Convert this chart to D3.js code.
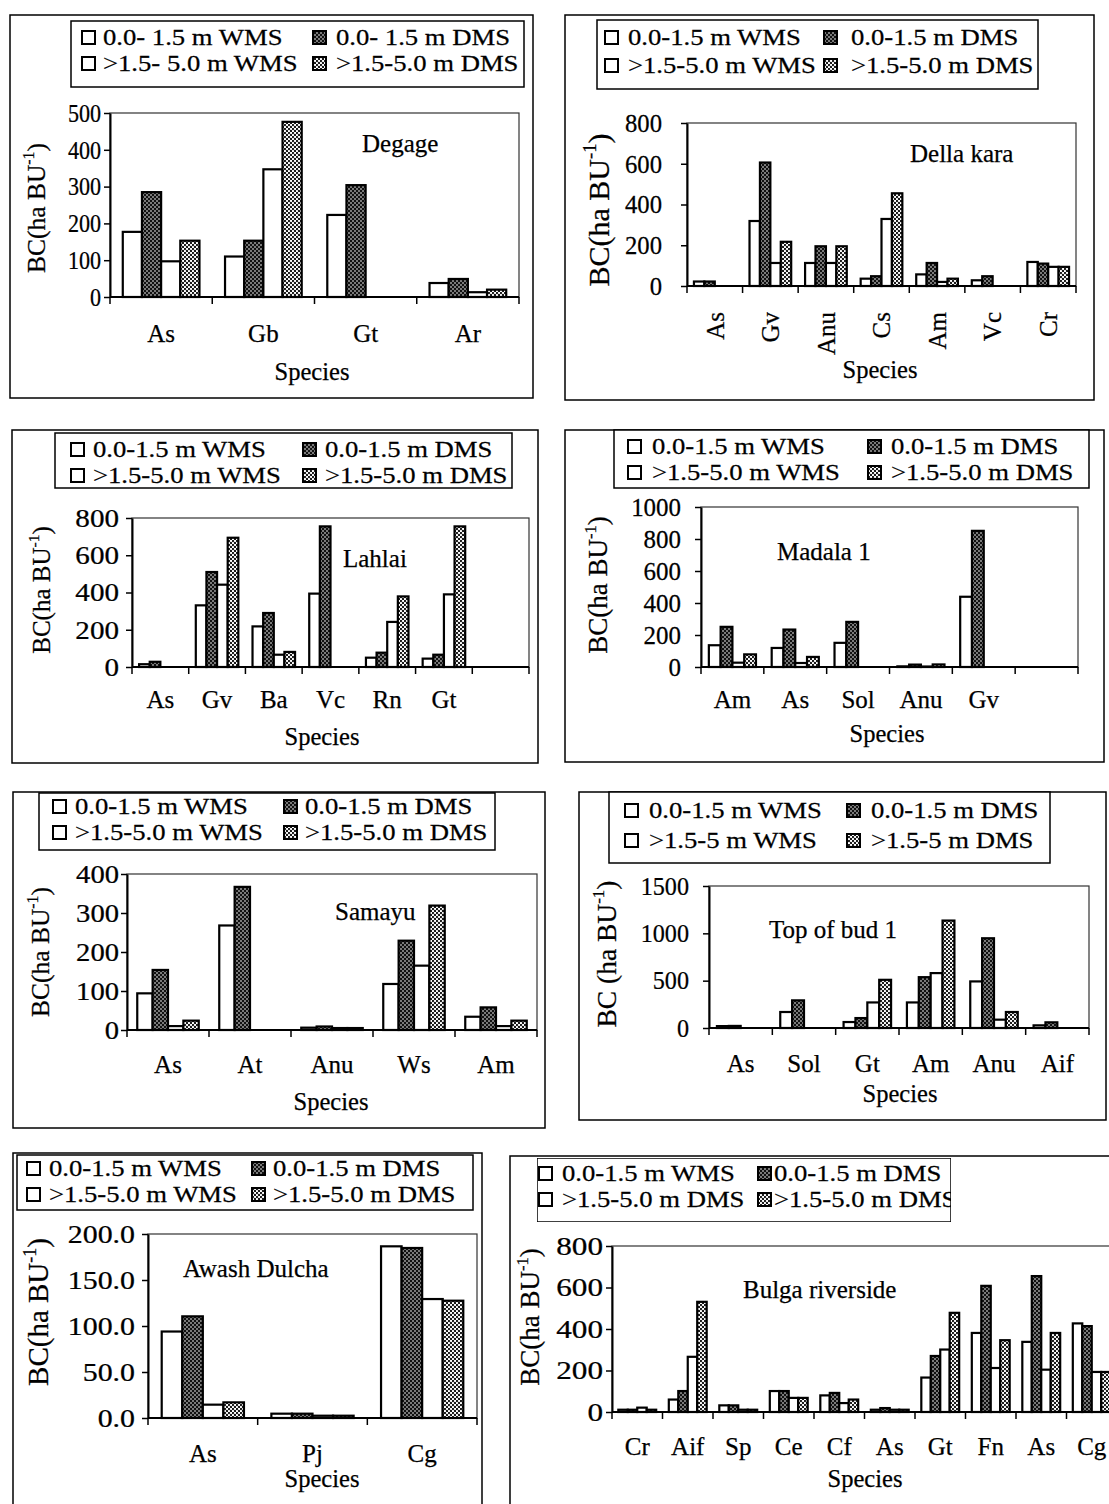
<!DOCTYPE html>
<html>
<head>
<meta charset="utf-8">
<script src="https://cdn.jsdelivr.net/npm/d3@7"></script>
<style>
  body { margin: 0; background: #fff; }
  svg text { font-family: "Liberation Serif", "Times New Roman", serif; fill: #000; stroke: #000; stroke-width: 0.25px; }
</style>
</head>
<body>
<svg id="fig" width="1109" height="1504"></svg>
<script>
// Bird count per site: four series per species
// order: 0.0-1.5 m WMS, 0.0-1.5 m DMS, >1.5-5.0 m WMS, >1.5-5.0 m DMS

const degageSpecies = ["As", "Gb", "Gt", "Ar"];
const degageWms1 = [177, 110, 223, 38];
const degageDms1 = [285, 153, 304, 49];
const degageWms2 = [97, 347, 0, 13];
const degageDms2 = [153, 476, 0, 20];
const degageTicks = [0, 100, 200, 300, 400, 500];

const dellaSpecies = ["As", "Gv", "Anu", "Cs", "Am", "Vc", "Cr"];
const dellaWms1 = [22, 319, 113, 36, 57, 28, 118];
const dellaDms1 = [22, 606, 195, 48, 113, 48, 110];
const dellaWms2 = [0, 113, 113, 329, 20, 0, 94];
const dellaDms2 = [0, 217, 195, 455, 36, 0, 94];
const dellaTicks = [0, 200, 400, 600, 800];

const lahlaiSpecies = ["As", "Gv", "Ba", "Vc", "Rn", "Gt", ""];
const lahlaiWms1 = [15, 331, 218, 394, 50, 45, 0];
const lahlaiDms1 = [28, 510, 290, 755, 77, 66, 0];
const lahlaiWms2 = [0, 442, 66, 0, 242, 390, 0];
const lahlaiDms2 = [0, 694, 81, 0, 379, 755, 0];
const lahlaiTicks = [0, 200, 400, 600, 800];

const madalaSpecies = ["Am", "As", "Sol", "Anu", "Gv", ""];
const madalaWms1 = [136, 119, 151, 4, 439, 0];
const madalaDms1 = [251, 234, 282, 15, 851, 0];
const madalaWms2 = [27, 25, 0, 3, 0, 0];
const madalaDms2 = [79, 63, 0, 16, 0, 0];
const madalaTicks = [0, 200, 400, 600, 800, 1000];

const samayuSpecies = ["As", "At", "Anu", "Ws", "Am"];
const samayuWms1 = [94, 268, 6, 118, 34];
const samayuDms1 = [154, 367, 9, 229, 58];
const samayuWms2 = [10, 0, 5, 165, 10];
const samayuDms2 = [24, 0, 5, 319, 24];
const samayuTicks = [0, 100, 200, 300, 400];

const budSpecies = ["As", "Sol", "Gt", "Am", "Anu", "Aif"];
const budWms1 = [20, 169, 63, 270, 492, 28];
const budDms1 = [22, 292, 105, 537, 948, 60];
const budWms2 = [0, 0, 270, 580, 88, 0];
const budDms2 = [0, 0, 509, 1135, 169, 0];
const budTicks = [0, 500, 1000, 1500];

const awashSpecies = ["As", "Pj", "Cg"];
const awashWms1 = [94.0, 4.7, 186.6];
const awashDms1 = [110.5, 4.7, 184.8];
const awashWms2 = [14.5, 2.5, 129.3];
const awashDms2 = [17.0, 2.5, 127.5];
const awashTicks = [0, 50, 100, 150, 200];

const bulgaSpecies = ["Cr", "Aif", "Sp", "Ce", "Cf", "As", "Gt", "Fn", "As", "Cg"];
const bulgaWms1 = [11, 60, 32, 101, 80, 11, 166, 381, 338, 427];
const bulgaDms1 = [11, 101, 32, 101, 92, 19, 270, 608, 655, 414];
const bulgaWms2 = [21, 266, 11, 68, 43, 11, 301, 212, 204, 193];
const bulgaDms2 = [11, 531, 11, 68, 60, 11, 478, 346, 381, 193];
const bulgaTicks = [0, 200, 400, 600, 800];

// legend wording used on each panel
const legendDegage = ["0.0- 1.5 m WMS", "0.0- 1.5 m DMS", ">1.5- 5.0 m WMS", ">1.5-5.0 m DMS"];
const legendStd = ["0.0-1.5 m WMS", "0.0-1.5 m DMS", ">1.5-5.0 m WMS", ">1.5-5.0 m DMS"];
const legendBud = ["0.0-1.5 m WMS", "0.0-1.5 m DMS", ">1.5-5 m WMS", ">1.5-5 m DMS"];
const legendBulga = ["0.0-1.5 m WMS", "0.0-1.5 m DMS", ">1.5-5.0 m DMS", ">1.5-5.0 m DMS"];

const svg = d3.select("#fig");
const defs = svg.append("defs");

// dense dark dot screen and lighter dot screen
const pDark = defs.append("pattern").attr("id", "dotsDark")
  .attr("width", 4).attr("height", 4).attr("patternUnits", "userSpaceOnUse");
pDark.append("rect").attr("width", 4).attr("height", 4).attr("fill", "#111");
pDark.append("circle").attr("cx", 1).attr("cy", 1).attr("r", 0.8).attr("fill", "#fff");
pDark.append("circle").attr("cx", 3).attr("cy", 3).attr("r", 0.8).attr("fill", "#fff");

const pLight = defs.append("pattern").attr("id", "dotsLight")
  .attr("width", 4).attr("height", 4).attr("patternUnits", "userSpaceOnUse");
pLight.append("rect").attr("width", 4).attr("height", 4).attr("fill", "#fff");
pLight.append("circle").attr("cx", 1).attr("cy", 1).attr("r", 1.15).attr("fill", "#111");
pLight.append("circle").attr("cx", 3).attr("cy", 3).attr("r", 1.15).attr("fill", "#111");

const seriesFill = ["#fff", "url(#dotsDark)", "#fff", "url(#dotsLight)"];

const panels = [
  { name: "Degage", species: degageSpecies, series: [degageWms1, degageDms1, degageWms2, degageDms2],
    legend: legendDegage, ticks: degageTicks, fmt: d3.format("d"), ylab: "BC(ha BU",
    tickSx: 0.85, tickGap: 9, ylabFs: 25.5,
    box: [10, 15, 533, 398], leg: [71, 21, 524, 87], rows: [45, 71], cols: [82, 103, 313, 336],
    plot: [110, 113, 519, 297], catY: 342, xlab: [312, 380], title: [362, 152], ylabPos: [36, 208] },
  { name: "Della kara", species: dellaSpecies, series: [dellaWms1, dellaDms1, dellaWms2, dellaDms2],
    legend: legendStd, ticks: dellaTicks, fmt: d3.format("d"), ylab: "BC(ha BU", rotate: true,
    tickSx: 0.95, tickGap: 25, ylabFs: 30,
    box: [565, 15, 1094, 400], leg: [597, 20, 1038, 89], rows: [45, 73], cols: [605, 628, 824, 851],
    plot: [687, 123, 1076, 286], catY: 312, xlab: [880, 378], title: [910, 162], ylabPos: [598, 210] },
  { name: "Lahlai", species: lahlaiSpecies, series: [lahlaiWms1, lahlaiDms1, lahlaiWms2, lahlaiDms2],
    legend: legendStd, ticks: lahlaiTicks, fmt: d3.format("d"), ylab: "BC(ha BU",
    tickSx: 1.12, tickGap: 13, ylabFs: 25,
    box: [12, 430, 538, 763], leg: [55, 433, 512, 488], rows: [457, 483], cols: [71, 93, 303, 325],
    plot: [132, 518, 529, 667], catY: 708, xlab: [322, 745], title: [343, 567], ylabPos: [41, 590] },
  { name: "Madala 1", species: madalaSpecies, series: [madalaWms1, madalaDms1, madalaWms2, madalaDms2],
    legend: legendStd, ticks: madalaTicks, fmt: d3.format("d"), ylab: "BC(ha BU",
    tickSx: 0.96, tickGap: 20, ylabFs: 27,
    box: [565, 430, 1104, 762], leg: [614, 430, 1089, 488], rows: [454, 480], cols: [628, 652, 868, 891],
    plot: [701, 507, 1078, 667], catY: 708, xlab: [887, 742], title: [777, 560], ylabPos: [598, 585] },
  { name: "Samayu", species: samayuSpecies, series: [samayuWms1, samayuDms1, samayuWms2, samayuDms2],
    legend: legendStd, ticks: samayuTicks, fmt: d3.format("d"), ylab: "BC(ha BU",
    tickSx: 1.1, tickGap: 8, ylabFs: 25.5,
    box: [13, 792, 545, 1128], leg: [39, 793, 495, 850], rows: [814, 840], cols: [53, 75, 284, 305],
    plot: [127, 874, 537, 1030], catY: 1073, xlab: [331, 1110], title: [335, 920], ylabPos: [40, 952] },
  { name: "Top of bud 1", species: budSpecies, series: [budWms1, budDms1, budWms2, budDms2],
    legend: legendBud, ticks: budTicks, fmt: d3.format("d"), ylab: "BC (ha BU",
    tickSx: 0.93, tickGap: 20, ylabFs: 27.5,
    box: [579, 792, 1106, 1120], leg: [609, 792, 1050, 863], rows: [818, 848], cols: [625, 649, 847, 871],
    plot: [709, 886, 1089, 1028], catY: 1072, xlab: [900, 1102], title: [769, 938], ylabPos: [606, 954] },
  { name: "Awash Dulcha", species: awashSpecies, series: [awashWms1, awashDms1, awashWms2, awashDms2],
    legend: legendStd, ticks: awashTicks, fmt: d3.format(".1f"), ylab: "BC(ha BU",
    tickSx: 1.15, tickGap: 13, ylabFs: 29,
    box: [13, 1153, 482, 1510], leg: [17, 1155, 473, 1210], rows: [1176, 1202], cols: [27, 49, 252, 273],
    plot: [148, 1234, 477, 1418], catY: 1462, xlab: [322, 1487], title: [183, 1277], ylabPos: [38, 1312] },
  { name: "Bulga riverside", species: bulgaSpecies, series: [bulgaWms1, bulgaDms1, bulgaWms2, bulgaDms2],
    legend: legendBulga, ticks: bulgaTicks, fmt: d3.format("d"), ylab: "BC(ha BU", clipLegend: true,
    tickSx: 1.2, tickGap: 9, ylabFs: 27,
    box: [510, 1156, 1115, 1510], leg: [537, 1158, 951, 1222], rows: [1181, 1207], cols: [539, 562, 758, 774],
    plot: [612, 1246, 1117, 1412], catY: 1455, xlab: [865, 1487], title: [743, 1298], ylabPos: [530, 1317] }
];

const TICK_FS = 26;
const CAT_FS = 25;
const LEG_FS = 23;
const LEG_SX = 1.16;
const TITLE_FS = 25;

panels.forEach((p, pi) => {
  const g = svg.append("g").attr("class", "panel");

  // outer frame
  g.append("rect")
    .attr("x", p.box[0]).attr("y", p.box[1])
    .attr("width", p.box[2] - p.box[0]).attr("height", p.box[3] - p.box[1])
    .attr("fill", "none").attr("stroke", "#000").attr("stroke-width", 1.5);

  const x = d3.scaleBand().domain(d3.range(p.species.length)).range([p.plot[0], p.plot[2]]);
  const y = d3.scaleLinear().domain([p.ticks[0], p.ticks[p.ticks.length - 1]]).range([p.plot[3], p.plot[1]]);
  const sub = d3.scaleBand().domain([0, 1, 2, 3]).range([0, x.bandwidth() * 0.75]);
  const groupOffset = x.bandwidth() * 0.125;

  // plot area border
  g.append("rect")
    .attr("x", p.plot[0]).attr("y", p.plot[1])
    .attr("width", p.plot[2] - p.plot[0]).attr("height", p.plot[3] - p.plot[1])
    .attr("fill", "none").attr("stroke", "#333").attr("stroke-width", 1.2);

  // bars
  p.series.forEach((vals, s) => {
    g.append("g").selectAll("rect")
      .data(vals.map((v, i) => ({ v, i })).filter(d => d.v > 0))
      .join("rect")
      .attr("x", d => x(d.i) + groupOffset + sub(s))
      .attr("y", d => y(d.v))
      .attr("width", sub.bandwidth())
      .attr("height", d => y(0) - y(d.v))
      .attr("fill", seriesFill[s])
      .attr("stroke", "#000").attr("stroke-width", 2.2);
  });

  // value axis
  const yAxis = g.append("g")
    .attr("transform", `translate(${p.plot[0]},0)`)
    .call(d3.axisLeft(y).tickValues(p.ticks).tickFormat(p.fmt).tickSize(6).tickSizeOuter(0));
  yAxis.attr("font-family", null).attr("font-size", null);
  yAxis.select(".domain").attr("stroke", "#000").attr("stroke-width", 2);
  yAxis.selectAll(".tick line").attr("stroke", "#000").attr("stroke-width", 1.5);
  yAxis.selectAll(".tick text")
    .attr("font-size", TICK_FS)
    .attr("x", -p.tickGap / p.tickSx)
    .attr("transform", `scale(${p.tickSx},1)`);

  // category axis: baseline plus tick marks at category boundaries
  const bounds = x.domain().map(d => x(d)).concat([x.range()[1]]);
  g.append("line")
    .attr("x1", p.plot[0]).attr("x2", p.plot[2]).attr("y1", y(0)).attr("y2", y(0))
    .attr("stroke", "#000").attr("stroke-width", 2);
  g.append("g").selectAll("line").data(bounds).join("line")
    .attr("x1", d => d).attr("x2", d => d)
    .attr("y1", y(0)).attr("y2", y(0) + 7)
    .attr("stroke", "#000").attr("stroke-width", 1.5);

  const xAxis = g.append("g")
    .attr("transform", `translate(0,${p.catY})`)
    .call(d3.axisBottom(x).tickSize(0).tickFormat(i => p.species[i]));
  xAxis.attr("font-family", null).attr("font-size", null);
  xAxis.select(".domain").remove();
  const catText = xAxis.selectAll(".tick text").attr("font-size", CAT_FS);
  if (p.rotate) {
    catText.attr("transform", "rotate(-90)").attr("text-anchor", "end")
      .attr("x", 0).attr("y", 0).attr("dy", "0.35em");
  } else {
    catText.attr("y", 0).attr("dy", 0);
  }

  // axis titles
  g.append("text")
    .attr("x", p.xlab[0]).attr("y", p.xlab[1])
    .attr("text-anchor", "middle").attr("font-size", 24.5)
    .text("Species");

  const yl = g.append("text")
    .attr("transform", `translate(${p.ylabPos[0]},${p.ylabPos[1]}) rotate(-90)`)
    .attr("text-anchor", "middle").attr("dy", "0.35em").attr("font-size", p.ylabFs);
  yl.append("tspan").text(p.ylab);
  yl.append("tspan").attr("font-size", p.ylabFs * 0.62).attr("dy", -p.ylabFs * 0.42).text("-1");
  yl.append("tspan").attr("dy", p.ylabFs * 0.42).text(")");

  // site name
  g.append("text")
    .attr("x", p.title[0]).attr("y", p.title[1])
    .attr("font-size", TITLE_FS).text(p.name);

  // legend
  const lg = g.append("g");
  if (p.clipLegend) {
    defs.append("clipPath").attr("id", "legClip" + pi).append("rect")
      .attr("x", p.leg[0]).attr("y", p.leg[1])
      .attr("width", p.leg[2] - p.leg[0]).attr("height", p.leg[3] - p.leg[1]);
    lg.attr("clip-path", `url(#legClip${pi})`);
  }
  lg.append("rect")
    .attr("x", p.leg[0]).attr("y", p.leg[1])
    .attr("width", p.leg[2] - p.leg[0]).attr("height", p.leg[3] - p.leg[1])
    .attr("fill", "#fff").attr("stroke", "#000").attr("stroke-width", 1.5);
  const entries = p.legend.map((t, s) => ({ t, s, col: s % 2, row: Math.floor(s / 2) }));
  lg.selectAll("rect.key").data(entries).join("rect").attr("class", "key")
    .attr("x", d => p.cols[d.col * 2])
    .attr("y", d => p.rows[d.row] - 14)
    .attr("width", 13).attr("height", 13)
    .attr("fill", d => seriesFill[d.s])
    .attr("stroke", "#000").attr("stroke-width", 2);
  lg.selectAll("text.key").data(entries).join("text").attr("class", "key")
    .attr("transform", d => `translate(${p.cols[d.col * 2 + 1]},${p.rows[d.row]}) scale(${LEG_SX},1)`)
    .attr("font-size", LEG_FS)
    .text(d => d.t);
});
</script>
</body>
</html>
